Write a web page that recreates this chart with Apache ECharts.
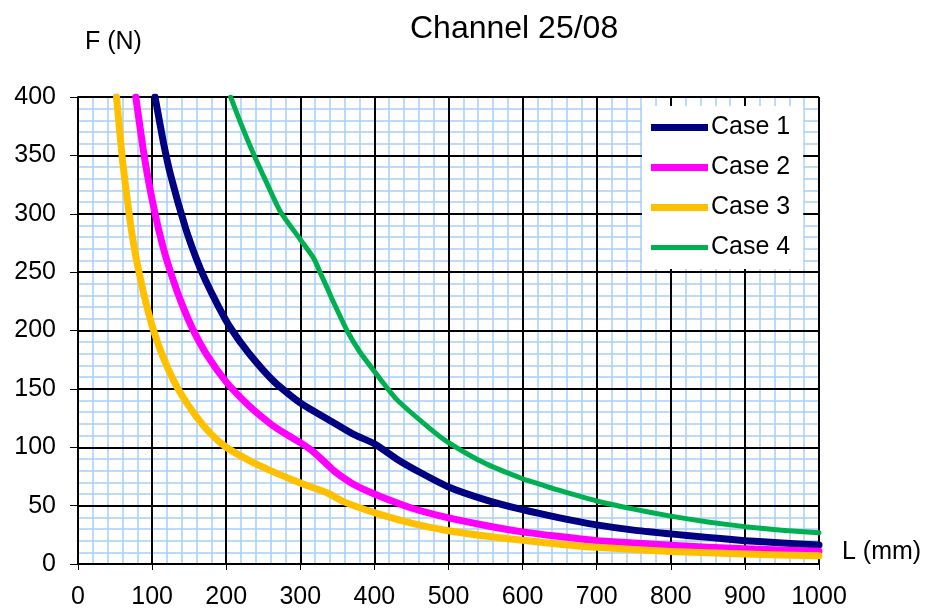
<!DOCTYPE html>
<html>
<head>
<meta charset="utf-8">
<script src="https://cdn.jsdelivr.net/npm/echarts@6/dist/echarts.min.js"></script>
<style>
html,body{margin:0;padding:0;background:#fff;}
#chart{width:928px;height:610px;}
</style>
</head>
<body>
<div id="chart"></div>
<script>
// Data (L in mm, F in N)
const titleText = 'Channel 25/08';
const seriesNames = ['Case 1', 'Case 2', 'Case 3', 'Case 4'];

const case1L = [104,115,125,145,160,172,190,205,230,265,300,345,372,400,430,460,500,550,600,650,700,750,800,850,900,950,1000];
const case1F = [400,362,333,288,261,243,220,203,181,156,138,121,111,103,90,79,66,55,46.5,39.5,33.5,29,25.8,22.8,20,18,16.3];

const case2L = [78,90,103,115,127,140,155,175,200,230,260,280,300,318,335,345,370,400,450,500,550,600,650,700,800,900,1000];
const case2F = [400,347,303,271,246,223,201,178,156,136,120,111.5,104,96,86,80,69,60,48,39.5,33,27.5,23.5,20,16,13,11];

const case3L = [52,60,70,77,85,92,101,115,135,160,180,200,230,260,290,310,336,360,400,450,500,550,600,650,700,800,900,1000];
const case3F = [400,346,295,267,242,223,202,177,150,126,111,100,89,80,72,67,61,53,44,35,28.5,24,20.3,17,14.3,10.8,8.5,7];

const case4L = [206,220,237,255,273,300,318,328,338,345,363,380,400,430,475,500,550,600,625,650,700,750,800,850,900,950,1000];
const case4F = [400,377,351,326,302,278,262,248,234,224,200,182,165,141,116,104,86,73,68,63,54,47,41,36,32,29,26.7];

const xMin = 0, xMax = 1000, xStep = 100;
const yMin = 0, yMax = 400, yStep = 50;

function zip(a, b) { return a.map((v, i) => [v, b[i]]); }

const FONT = 'Liberation Sans, Arial, sans-serif';
const chart = echarts.init(document.getElementById('chart'), null, {renderer: 'canvas'});

const colors = ['#000080', '#ff00ff', '#ffc000', '#00b050'];
const widths = [7, 7, 7, 5];
const datasets = [zip(case1L, case1F), zip(case2L, case2F), zip(case3L, case3F), zip(case4L, case4F)];
// legend icons: a horizontal bar inside a 57x25 box
const thickIcon = 'path://M0,0M57,25M0,9L57,9L57,16L0,16Z';
const thinIcon = 'path://M0,0M57,25M0,10L57,10L57,15L0,15Z';

const option = {
  animation: false,
  backgroundColor: '#ffffff',
  textStyle: {fontFamily: FONT},
  grid: {left: 78, right: 109, top: 97, bottom: 45, containLabel: false},
  graphic: [
    {type: 'text', left: 410, top: 13, style: {text: titleText, fontSize: 32, fontFamily: FONT, fill: '#000'}},
    {type: 'text', left: 85, top: 30, style: {text: 'F (N)', fontSize: 25, fontFamily: FONT, fill: '#000'}},
    {type: 'text', left: 842, top: 540, style: {text: 'L (mm)', fontSize: 25, fontFamily: FONT, fill: '#000'}}
  ],
  legend: {
    data: seriesNames.map((n, i) => ({name: n, icon: i === 3 ? thinIcon : thickIcon, itemStyle: {color: colors[i]}})),
    left: 642, top: 106,
    orient: 'vertical',
    backgroundColor: '#ffffff',
    padding: [9, 13, 9, 9],
    itemWidth: 57, itemHeight: 25, itemGap: 15,
    textStyle: {fontSize: 25, fontFamily: FONT, color: '#000', lineHeight: 25, padding: [0, 0, 0, -2]},
    selectedMode: false
  },
  xAxis: [
    {
      type: 'value', min: xMin, max: xMax, interval: xStep, z: 3,
      axisLine: {show: true, onZero: false, lineStyle: {color: '#000', width: 2}},
      axisTick: {show: true, length: 6, lineStyle: {color: '#000', width: 1}},
      axisLabel: {fontSize: 25, color: '#000', margin: 21, fontFamily: FONT, formatter: v => String(v)},
      splitLine: {show: true, lineStyle: {color: '#000', width: 2}},
      minorTick: {show: false},
      minorSplitLine: {show: false}
    },
    {
      type: 'value', min: xMin, max: xMax, interval: xStep, z: 0, position: 'bottom',
      axisLine: {show: false}, axisTick: {show: false}, axisLabel: {show: false},
      splitLine: {show: false},
      minorTick: {show: false, splitNumber: 5},
      minorSplitLine: {show: true, lineStyle: {color: '#a8d0f7', width: 1.5}}
    }
  ],
  yAxis: [
    {
      type: 'value', min: yMin, max: yMax, interval: yStep, z: 3,
      axisLine: {show: true, onZero: false, lineStyle: {color: '#000', width: 2}},
      axisTick: {show: true, length: 8, lineStyle: {color: '#000', width: 1}},
      axisLabel: {fontSize: 25, color: '#000', margin: 22, fontFamily: FONT, formatter: v => String(v)},
      splitLine: {show: true, lineStyle: {color: '#000', width: 2}},
      minorTick: {show: false},
      minorSplitLine: {show: false}
    },
    {
      type: 'value', min: yMin, max: yMax, interval: yStep, z: 0, position: 'left',
      axisLine: {show: false}, axisTick: {show: false}, axisLabel: {show: false},
      splitLine: {show: false},
      minorTick: {show: false, splitNumber: 5},
      minorSplitLine: {show: true, lineStyle: {color: '#a8d0f7', width: 1.5}}
    }
  ],
  series: seriesNames.map((name, i) => ({
    name: name,
    type: 'line',
    xAxisIndex: 0, yAxisIndex: 0,
    data: datasets[i],
    showSymbol: false,
    symbol: 'none',
    smooth: 0.2,
    clip: true,
    z: 5 + i,
    color: colors[i],
    lineStyle: {color: colors[i], width: widths[i], cap: 'round', join: 'round'}
  }))
};

chart.setOption(option);
</script>
</body>
</html>
